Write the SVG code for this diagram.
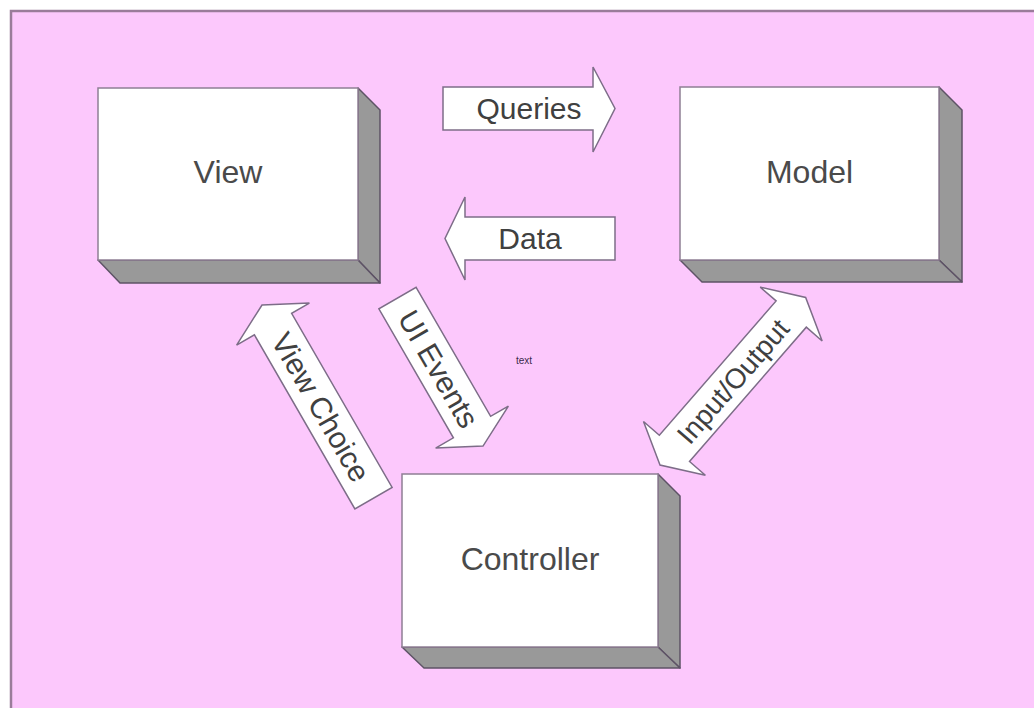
<svg xmlns="http://www.w3.org/2000/svg" width="1034" height="708" viewBox="0 0 1034 708">
<style>
.front{fill:#ffffff;stroke:#8f7f94;stroke-width:1.5}
.side{fill:#999999;stroke:#5e5366;stroke-width:1.5;stroke-linejoin:round}
.lbl{font-family:"Liberation Sans",Arial,sans-serif;font-size:32px;fill:#4a4a4a;text-anchor:middle}
.arr{fill:#ffffff;stroke:#7d6d88;stroke-width:1.5;stroke-linejoin:miter}
.alb{font-family:"Liberation Sans",Arial,sans-serif;font-size:30px;fill:#404040;text-anchor:middle}
</style>
<rect x="0" y="0" width="1034" height="708" fill="#ffffff"/>
<rect x="11" y="11" width="1040" height="720" fill="#fcc8fc" stroke="#9a7c9a" stroke-width="2.5"/>
<g id="view">
<polygon class="side" points="358,88 380,110 380,283 358,260"/>
<polygon class="side" points="98,260 358,260 380,283 120,283"/>
<rect class="front" x="98" y="88" width="260" height="172"/>
<text class="lbl" x="228" y="183">View</text>
</g>
<g id="model">
<polygon class="side" points="939,87 962,110 962,282 939,260"/>
<polygon class="side" points="680,260 939,260 962,282 702,282"/>
<rect class="front" x="680" y="87" width="259" height="173"/>
<text class="lbl" x="809.5" y="183">Model</text>
</g>
<g id="controller">
<polygon class="side" points="658,474 680,496 680,668 658,647"/>
<polygon class="side" points="402,647 658,647 680,668 424,668"/>
<rect class="front" x="402" y="474" width="256" height="173"/>
<text class="lbl" x="530" y="570">Controller</text>
</g>
<g id="connectors">
<g id="queries">
<polygon class="arr" points="443,87 593,87 593,67 615,108.5 593,152 593,130 443,130"/>
<text class="alb" x="529" y="119">Queries</text>
</g>
<g id="data">
<polygon class="arr" points="615,217 465,217 465,197 445,238.5 465,280 465,260 615,260"/>
<text class="alb" x="530" y="249">Data</text>
</g>
<g id="ui-events" transform="translate(397.5,298) rotate(60)">
<polygon class="arr" points="0,-21.5 149,-21.5 149,-42 171,0 149,42 149,21.5 0,21.5"/>
<text class="alb" x="82" y="10.5">UI Events</text>
</g>
<g id="view-choice" transform="translate(262,305) rotate(60)">
<polygon class="arr" points="0,0 22,-42 22,-21.5 223,-21.5 223,21.5 22,21.5 22,42"/>
<text class="alb" x="118" y="10.5">View Choice</text>
</g>
<g id="input-output" transform="translate(660,465) rotate(-49)">
<polygon class="arr" points="0,0 22,-41 22,-20 200,-20 200,-41 222,0 200,41 200,20 22,20 22,41"/>
<text class="alb" x="111" y="10" style="font-size:28px">Input/Output</text>
</g>
</g>
<text x="516" y="364" style="font-family:'Liberation Sans',Arial,sans-serif;font-size:10px;fill:#3a2a4a">text</text>
</svg>
